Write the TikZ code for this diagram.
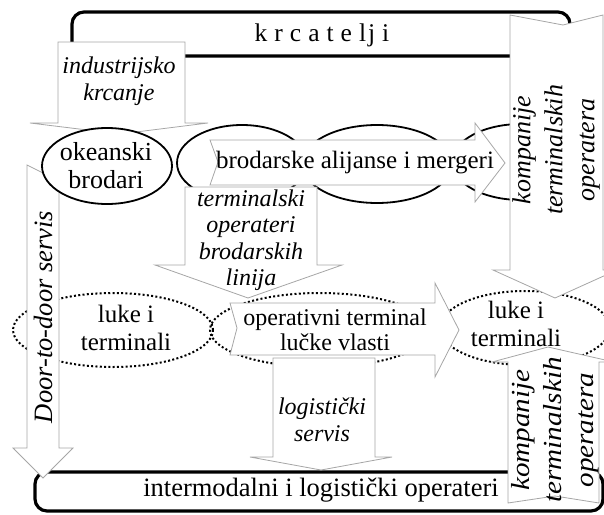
\documentclass[tikz,border=0pt]{standalone}
\usepackage{fontspec}
\setmainfont{Liberation Serif}
\newcommand{\lsp}{\hskip7pt}
\begin{document}
\begin{tikzpicture}[x=1pt,y=-1pt,
  arr/.style={draw=black!35, fill=white, line width=0.8pt, line join=miter},
  band/.style={draw=black, line width=3.2pt, rounded corners=12pt},
  sol/.style={draw=black, line width=1.8pt},
  dots/.style={draw=black, line width=2pt, dash pattern=on 2pt off 2.3pt},
  lbl/.style={align=center, inner sep=0pt, text=black},
  fs/.style 2 args={font=\fontsize{#1}{#2}\selectfont}
]
\useasboundingbox (0,0) rectangle (604,514);
% bands
\draw[band] (72,12) rectangle (570,56);
\draw[band] (35,472) rectangle (603,511);
% solid ellipses under arrows
\draw[sol] (242,163) ellipse [x radius=65pt, y radius=38pt];
\draw[sol] (377,164) ellipse [x radius=75pt, y radius=39pt];
\draw[sol] (521,162) ellipse [x radius=69pt, y radius=38pt];
% dotted ellipses
\draw[dots] (113,330) ellipse [x radius=100pt, y radius=37pt];
\draw[dots] (320,330) ellipse [x radius=110pt, y radius=37pt];
\draw[dots] (525,328) ellipse [x radius=85pt, y radius=37pt];
% door-to-door arrow
\draw[arr] (27,165) -- (43,173) -- (59,165) -- (59,448) -- (73,448) -- (43,478) -- (13,448) -- (27,448) -- cycle;
% industrijsko krcanje arrow
\draw[arr] (58,42) -- (185,42) -- (185,123) -- (208,123) -- (120,134) -- (30,123) -- (58,123) -- cycle;
% okeanski brodari ellipse
\draw[sol, fill=white] (107,166) ellipse [x radius=65pt, y radius=38pt];
% brodarske alijanse arrow
\draw[arr] (210,140) -- (475,140) -- (475,123) -- (505,163) -- (475,202) -- (475,185) -- (210,185) -- (218,162) -- cycle;
% terminalski operateri arrow
\draw[arr] (185,187) -- (317,187) -- (317,265) -- (342,265) -- (248,298) -- (155,265) -- (185,265) -- cycle;
% kompanije top arrow
\draw[arr] (510,15) -- (563,25) -- (603,15) -- (603,270) -- (617,270) -- (555,298) -- (493,270) -- (510,270) -- cycle;
% logisticki servis arrow
\draw[arr] (273,358) -- (375,358) -- (375,457) -- (392,457) -- (321,470) -- (250,457) -- (273,457) -- cycle;
% operativni terminal arrow
\draw[arr] (230,303) -- (435,303) -- (435,283) -- (459,330) -- (435,377) -- (435,355) -- (230,355) -- (237,328) -- cycle;
% kompanije bottom arrow
\draw[arr] (508,503) -- (555,496) -- (599,503) -- (599,362) -- (614,362) -- (548,347) -- (492,362) -- (508,362) -- cycle;
% texts
\node[lbl, fs={25.5}{28}] (krc) at (322,35) {k\lsp r\lsp c\lsp a\lsp t\lsp e\lsp l\hskip2pt j\lsp i};
\node[lbl, fs={24}{27}] (ind) at (119,81) {\itshape industrijsko\\\itshape krcanje};
\node[lbl, fs={26}{28}] (oke) at (106,166) {okeanski\\brodari};
\node[lbl, fs={25}{27}] (bro) at (355,163) {brodarske alijanse i mergeri};
\node[lbl, fs={24}{26.5}] (ter) at (251,240) {\itshape terminalski\\\itshape operateri\\\itshape brodarskih\\\itshape linija};
\node[lbl, fs={26}{32}, rotate=90] (komt) at (556,150) {\itshape kompanije\\\itshape terminalskih\\\itshape operatera};
\node[lbl, fs={26.5}{28}, rotate=90] (door) at (43,317) {\itshape Door-to-door servis};
\node[lbl, fs={25}{28.5}] (lukl) at (126,328) {luke i\\terminali};
\node[lbl, fs={24}{25.5}] (ope) at (335,330) {operativni terminal\\lučke vlasti};
\node[lbl, fs={25}{28}] (lukr) at (516,324) {luke i\\terminali};
\node[lbl, fs={24}{26.5}] (log) at (322,420) {\itshape logistički\\\itshape servis};
\node[lbl, fs={26}{32}, rotate=90] (komb) at (555,430) {\itshape\scalebox{1.12}[1]{kompanije}\\\itshape\scalebox{1.12}[1]{terminalskih}\\\itshape\scalebox{1.12}[1]{operatera}};
\node[lbl, fs={26.5}{28}] (int) at (321,490) {intermodalni i logistički operateri};
\end{tikzpicture}
\end{document}
